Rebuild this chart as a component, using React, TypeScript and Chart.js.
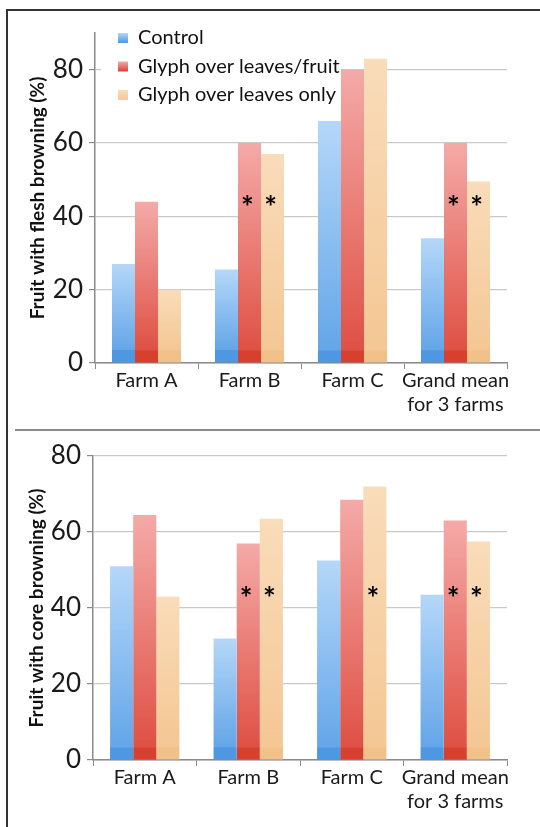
import React, { useEffect, useRef } from "react";
import { Chart, registerables } from "chart.js";

Chart.register(...registerables);

// ---------- data ----------
const categories: string[][] = [["Farm A"], ["Farm B"], ["Farm C"], ["Grand mean", "for 3 farms"]];
const seriesNames = ["Control", "Glyph over leaves/fruit", "Glyph over leaves only"];

const fleshControl = [27, 25.5, 66, 34];
const fleshLeavesFruit = [44, 60, 80, 60];
const fleshLeavesOnly = [20, 57, 83, 49.5];

const coreControl = [51, 32, 52.5, 43.5];
const coreLeavesFruit = [64.5, 57, 68.5, 63];
const coreLeavesOnly = [43, 63.5, 72, 57.5];

// significance markers (*) per category, for the two glyphosate series
const fleshStarsLeavesFruit = [false, true, false, true];
const fleshStarsLeavesOnly = [false, true, false, true];
const coreStarsLeavesFruit = [false, true, false, true];
const coreStarsLeavesOnly = [false, true, true, true];
const starLevel = 44;

const fleshAxisMax = 90;
const coreAxisMax = 80;
const tickStep = 20;

const fleshTitle = "Fruit with flesh browning (%)";
const coreTitle = "Fruit with core browning (%)";

// ---------- styles ----------
const FONT = "Lato, 'Open Sans', sans-serif";
const gradients = [
  ["#b5d7f8", "#64a6e8", "#4d97e3"],
  ["#f4aaa8", "#df5145", "#d7402f"],
  ["#f9dcba", "#f4c794", "#f2c089"],
];
const swatchColors = ["#4a97e2", "#dc3f35", "#f3c893"];

function barGradient(stops: string[]) {
  return (ctx: any) => {
    const chart = ctx.chart;
    const area = chart.chartArea;
    if (!area || ctx.type !== "data" || !chart.scales || !chart.scales.y) return stops[1];
    const v = ctx.raw;
    const yTop = chart.scales.y.getPixelForValue(v);
    const yBot = chart.scales.y.getPixelForValue(0);
    if (!isFinite(yTop) || !isFinite(yBot) || yBot - yTop < 2) return stops[1];
    const g = chart.ctx.createLinearGradient(0, yTop, 0, yBot);
    const band = Math.max(0, Math.min(0.99, 1 - 13 / (yBot - yTop)));
    g.addColorStop(0, stops[0]);
    g.addColorStop(band, stops[1]);
    g.addColorStop(Math.min(1, band + 0.005), stops[2]);
    g.addColorStop(1, stops[2]);
    return g;
  };
}

const legendPlugin = {
  id: "insideLegend",
  beforeDatasetsDraw(chart: any, _args: any, opts: any) {
    if (!opts || !opts.show) return;
    const { ctx } = chart;
    ctx.save();
    ctx.fillStyle = "#ffffff";
    ctx.fillRect(101, 22, 240, 86);
    ctx.font = `20px ${FONT}`;
    ctx.textBaseline = "middle";
    ctx.textAlign = "left";
    chart.data.datasets.forEach((ds: any, i: number) => {
      const y = 38 + i * 28.5;
      const g = ctx.createLinearGradient(0, y - 5, 0, y + 5);
      g.addColorStop(0, gradients[i][0]);
      g.addColorStop(1, swatchColors[i]);
      ctx.fillStyle = g;
      ctx.fillRect(118, y - 5, 10, 10);
      ctx.fillStyle = "#111";
      ctx.fillText(ds.label, 138, y);
    });
    ctx.restore();
  },
};

const starsPlugin = {
  id: "stars",
  afterDatasetsDraw(chart: any, _args: any, opts: any) {
    if (!opts || !opts.marks) return;
    const { ctx } = chart;
    const y = chart.scales.y.getPixelForValue(opts.level);
    ctx.save();
    ctx.font = `bold 30px ${FONT}`;
    ctx.fillStyle = "#000";
    ctx.textAlign = "center";
    ctx.textBaseline = "middle";
    opts.marks.forEach((m: any) => {
      const meta = chart.getDatasetMeta(m.dataset);
      m.flags.forEach((f: boolean, j: number) => {
        if (!f) return;
        const bar = meta.data[j];
        ctx.fillText("*", bar.x - 2, y + 7);
      });
    });
    ctx.restore();
  },
};

interface PanelProps {
  top: number;
  height: number;
  values: number[][];
  max: number;
  title: string;
  legend: boolean;
  padTop: number;
  padLeft: number;
  yWidth: number;
  marks: { dataset: number; flags: boolean[] }[];
}

function Panel(p: PanelProps) {
  const ref = useRef<HTMLCanvasElement>(null);
  useEffect(() => {
    const chart = new Chart(ref.current as HTMLCanvasElement, {
      type: "bar",
      data: {
        labels: categories as any,
        datasets: p.values.map((vals, i) => ({
          label: seriesNames[i],
          data: vals,
          backgroundColor: barGradient(gradients[i]) as any,
          borderWidth: 0,
          categoryPercentage: 0.67,
          barPercentage: 1,
        })),
      },
      options: {
        animation: false,
        responsive: false,
        devicePixelRatio: 1,
        layout: { padding: { top: p.padTop, left: p.padLeft, right: 33, bottom: 0 } },
        plugins: {
          legend: { display: false },
          tooltip: { enabled: false },
          insideLegend: { show: p.legend },
          stars: { marks: p.marks, level: starLevel },
        } as any,
        scales: {
          x: {
            grid: {
              drawOnChartArea: false,
              drawTicks: true,
              tickLength: 6,
              tickColor: "#8a8a8a",
              offset: true,
            },
            border: { color: "#8a8a8a", width: 1.5 },
            ticks: {
              color: "#1a1a1a",
              font: { family: FONT, size: 20 },
              padding: 0,
              maxRotation: 0,
              autoSkip: false,
            },
            afterFit: (s: any) => {
              s.height = 67;
            },
          },
          y: {
            min: 0,
            max: p.max,
            ticks: {
              stepSize: tickStep,
              includeBounds: false,
              color: "#1a1a1a",
              font: { family: FONT, size: 26 },
              padding: 6,
            },
            grid: {
              color: "#c9c9c9",
              tickColor: "#8a8a8a",
              tickLength: 6,
              lineWidth: 1.2,
            },
            border: { color: "#8a8a8a", width: 1.5 },
            title: {
              display: true,
              text: p.title,
              color: "#111",
              font: { family: FONT, size: 19, weight: "bold" },
            },
            afterFit: (s: any) => {
              s.width = p.yWidth;
            },
          },
        },
      },
      plugins: [legendPlugin, starsPlugin],
    });
    return () => chart.destroy();
  }, []);
  return (
    <canvas
      ref={ref}
      width={540}
      height={p.height}
      style={{ position: "absolute", left: 0, top: p.top, width: 540, height: p.height }}
    />
  );
}

export default function App() {
  return (
    <div style={{ position: "absolute", left: 0, top: 0, width: 540, height: 827, background: "#fff", overflow: "hidden" }}>
      <Panel
        top={0}
        height={430}
        values={[fleshControl, fleshLeavesFruit, fleshLeavesOnly]}
        max={fleshAxisMax}
        title={fleshTitle}
        legend={true}
        padTop={33}
        padLeft={22}
        yWidth={73}
        marks={[
          { dataset: 1, flags: fleshStarsLeavesFruit },
          { dataset: 2, flags: fleshStarsLeavesOnly },
        ]}
      />
      <Panel
        top={431}
        height={396}
        values={[coreControl, coreLeavesFruit, coreLeavesOnly]}
        max={coreAxisMax}
        title={coreTitle}
        legend={false}
        padTop={25}
        padLeft={21}
        yWidth={72}
        marks={[
          { dataset: 1, flags: coreStarsLeavesFruit },
          { dataset: 2, flags: coreStarsLeavesOnly },
        ]}
      />
      <div style={{ position: "absolute", left: 6, top: 9, width: 534, height: 2, background: "#333" }} />
      <div style={{ position: "absolute", left: 6, top: 9, width: 2, height: 818, background: "#333" }} />
      <div style={{ position: "absolute", left: 15, top: 429, width: 525, height: 2, background: "#8a8a8a" }} />
    </div>
  );
}
